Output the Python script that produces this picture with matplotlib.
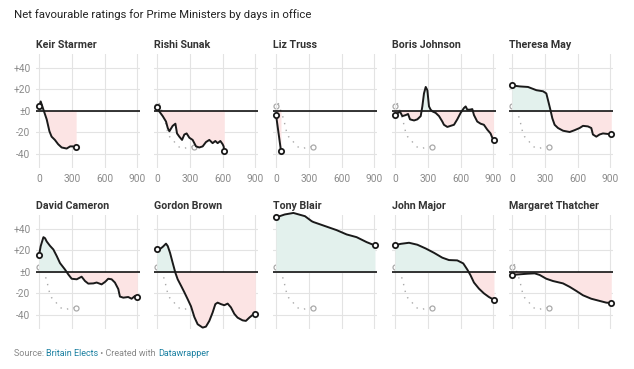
import matplotlib
matplotlib.use("Agg")
import matplotlib.pyplot as plt
import numpy as np

plt.rcParams['font.family'] = ['Roboto', 'DejaVu Sans']

title = "Net favourable ratings for Prime Ministers by days in office"
names = ["Keir Starmer", "Rishi Sunak", "Liz Truss", "Boris Johnson", "Theresa May",
         "David Cameron", "Gordon Brown", "Tony Blair", "John Major", "Margaret Thatcher"]

starmer_days = [0, 15, 40, 70, 95, 115, 145, 175, 207, 253, 285, 308, 340]
starmer_vals = [4, 8.6, 1, -8, -19, -24, -27, -31, -34, -35, -33, -33, -34]

sunak_days = [0, 20, 52, 82, 98, 113, 143, 168, 183, 204, 229, 250, 271, 296, 326, 357,
              387, 418, 448, 479, 509, 534, 555, 580, 601, 610, 616]
sunak_vals = [3, -0.6, -5, -10, -16, -19, -14, -12, -21, -24, -27, -22, -21, -25, -27, -33,
              -34, -33, -29, -27, -30, -28, -30, -28, -31, -33, -37]

truss_days = [0, 45]
truss_vals = [-4, -37]

johnson_days = [0, 27, 46, 67, 98, 119, 137, 174, 204, 235, 250, 265, 281, 296, 311, 326,
                342, 372, 403, 433, 448, 479, 509, 540, 570, 601, 631, 647, 662, 686, 708,
                723, 753, 784, 814, 845, 875, 891, 906]
johnson_vals = [-4, -2, -1, -5, -4, -3, -8, -9, -8, -5, 4, 16, 22, 19, 4, 1,
                -0.6, -2, -5, -10, -13, -15, -14, -13, -8, -2, 2.5, 4, 1, 1, 1.5,
                -4, -10, -12, -13, -17.5, -21, -25, -27]

may_days = [0, 70, 146, 223, 284, 314, 329, 351, 369, 390, 421, 467, 528, 573, 619, 650,
            695, 726, 741, 772, 802, 833, 878, 909]
may_vals = [23.4, 22.5, 22, 19, 18, 16, 10, 1, -7, -13, -16, -18.5, -19.7, -18, -16, -14,
            -14.5, -16, -22, -24, -22, -21, -21.5, -21.5]

cameron_days = [0, 15, 40, 55, 70, 100, 131, 162, 192, 238, 268, 299, 345, 390, 421, 451,
                497, 528, 573, 604, 634, 665, 695, 726, 741, 772, 817, 848, 878, 900]
cameron_vals = [15.4, 23.7, 32, 31, 28, 24, 20.6, 14.5, 8, 2, -2.5, -6.5, -7, -4.6, -8.6, -11,
                -10.8, -10, -11.7, -9.5, -6.5, -7, -10, -16, -23, -24, -23.4, -25, -22.5, -23.4]

brown_days = [0, 21, 52, 82, 98, 119, 143, 168, 189, 220, 250, 281, 311, 342, 372, 418,
              448, 479, 509, 534, 555, 586, 616, 647, 677, 708, 738, 784, 814, 845, 875, 900]
brown_vals = [20.6, 20.6, 23, 26, 23.7, 17.5, 8.3, -1, -7, -13, -19, -25.5, -32, -42, -48.6, -51.7,
              -50.8, -45.5, -37.8, -30, -28.6, -30, -31, -29.5, -33, -39, -42.5, -45, -45.5, -42.5, -40, -39.4]

blair_days = [0, 80, 159, 265, 326, 342, 433, 555, 647, 738, 830, 906]
blair_vals = [50.3, 53, 54.4, 51.4, 46.8, 46, 42.8, 38.5, 34.5, 32, 27.4, 24.3]

major_days = [0, 52, 128, 204, 281, 357, 433, 494, 570, 625, 662, 692, 723, 769, 814, 860, 906]
major_vals = [24.6, 25.8, 26.8, 25, 21.5, 17.5, 13, 10.8, 10.5, 7.7, 2, -3.4, -10, -15.7, -20, -23.4, -26]

thatcher_days = [0, 55, 146, 207, 253, 314, 375, 467, 528, 589, 650, 726, 802, 863, 909]
thatcher_vals = [-3, -2.5, -1.8, -1.5, -3, -6.5, -8.6, -10.8, -14, -17.8, -21.8, -25, -27, -28.6, -29]

series = [(starmer_days, starmer_vals), (sunak_days, sunak_vals), (truss_days, truss_vals),
          (johnson_days, johnson_vals), (may_days, may_vals), (cameron_days, cameron_vals),
          (brown_days, brown_vals), (blair_days, blair_vals), (major_days, major_vals),
          (thatcher_days, thatcher_vals)]

x_ticks = [0, 300, 600, 900]
y_ticks = [40, 20, 0, -20, -40]
y_tick_labels = ["+40", "+20", "±0", "-20", "-40"]

W, H = 634, 369
fig = plt.figure(figsize=(W / 100, H / 100), dpi=100)

GREEN = "#e3f1ed"
PINK = "#fce4e4"
GRID = "#e3e3e3"
TICKC = "#8a8a8a"

col_left = [36, 154, 273, 392, 509]
row_top = [54, 215]
ax_w, ax_h = 104, 114

for i, (name, (d, v)) in enumerate(zip(names, series)):
    r, c = divmod(i, 5)
    left = col_left[c] / W
    bottom = 1 - (row_top[r] + ax_h) / H
    ax = fig.add_axes([left, bottom, ax_w / W, ax_h / H])
    d = np.asarray(d, float)
    v = np.asarray(v, float)
    ax.set_xlim(-28, 925)
    ax.set_ylim(-53, 52.5)
    for s in ax.spines.values():
        s.set_visible(False)
    ax.set_xticks(x_ticks)
    ax.set_yticks(y_ticks)
    ax.grid(True, color=GRID, linewidth=0.8, zorder=0)
    ax.tick_params(length=0, colors=TICKC, labelsize=7.3, pad=4)
    if c == 0:
        ax.set_yticklabels(y_tick_labels)
    else:
        ax.set_yticklabels([])
    if r == 0:
        ax.set_xticklabels([str(t) for t in x_ticks])
    else:
        ax.set_xticklabels([])
    # reference (Starmer) dotted curve
    if i != 0:
        ax.plot(starmer_days, starmer_vals, linestyle=(0, (1, 4)), color="#aaaaaa",
                linewidth=1.0, zorder=1)
        ax.plot([starmer_days[0], starmer_days[-1]], [starmer_vals[0], starmer_vals[-1]],
                linestyle="none", marker="o", markersize=3.6, markerfacecolor="white",
                markeredgecolor="#aaaaaa", markeredgewidth=0.9, zorder=1.5)
    ax.fill_between(d, v, 0, where=v >= 0, interpolate=True, color=GREEN, linewidth=0,
                    zorder=2, clip_on=False)
    ax.fill_between(d, v, 0, where=v <= 0, interpolate=True, color=PINK, linewidth=0, zorder=2)
    ax.axhline(0, color="black", linewidth=1.1, zorder=3)
    ax.plot(d, v, color="#1a1a1a", linewidth=1.4, zorder=4, solid_joinstyle="round",
            clip_on=False)
    ax.plot([d[0], d[-1]], [v[0], v[-1]], linestyle="none", marker="o", markersize=3.8,
            markerfacecolor="white", markeredgecolor="#1a1a1a", markeredgewidth=1.3, zorder=5,
            clip_on=False)
    fig.text(left, 1 - (row_top[r] - 6) / H, name, fontsize=7.7, fontweight="bold",
             color="#333333", ha="left", va="baseline")

fig.text(14 / W, 1 - 18 / H, title, fontsize=8.2, color="#222222", ha="left", va="baseline")

fx, fy = 14 / W, 1 - 356 / H
parts = [("Source: ", "#888888"), ("Britain Elects", "#1d81a2"), (" • Created with ", "#888888"),
         ("Datawrapper", "#1d81a2")]
renderer = fig.canvas.get_renderer()
x = fx
for txt, col in parts:
    t = fig.text(x, fy, txt, fontsize=6.5, color=col, ha="left", va="baseline")
    bb = t.get_window_extent(renderer=renderer)
    x += bb.width / W

fig.savefig("out.png", dpi=100)
